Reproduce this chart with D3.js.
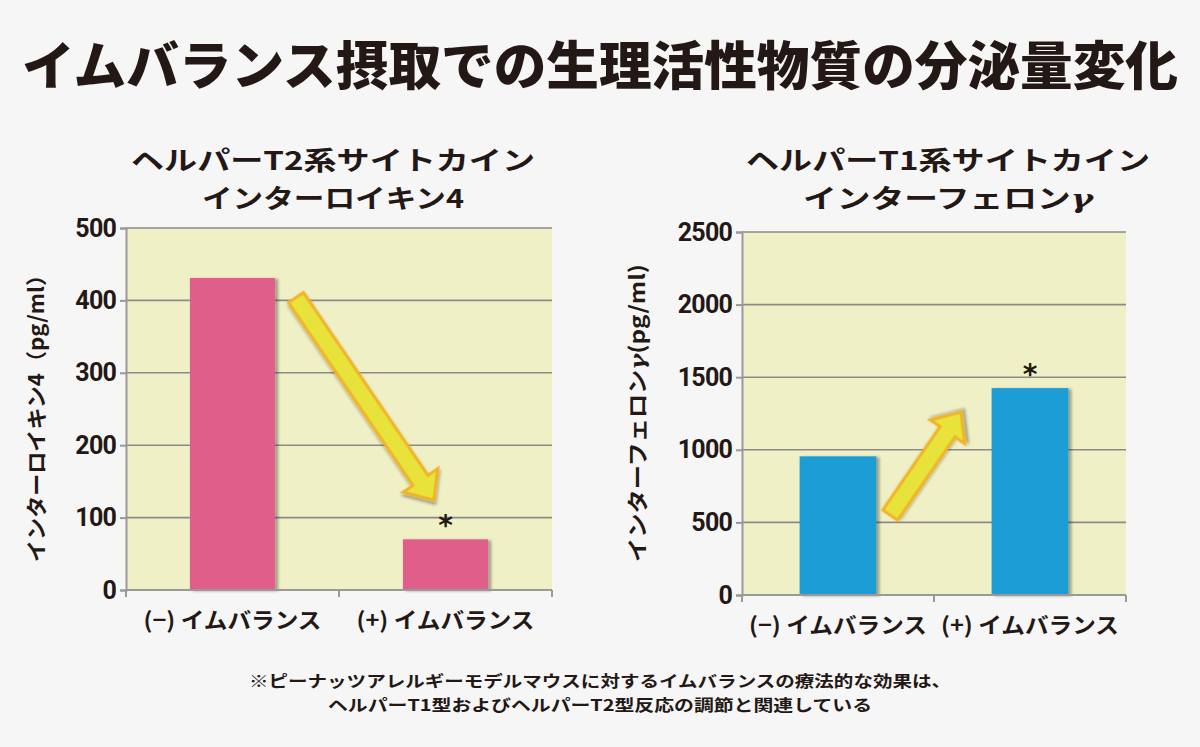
<!DOCTYPE html>
<html lang="ja">
  <head>
    <meta charset="UTF-8" />
    <title>イムバランス摂取での生理活性物質の分泌量変化</title>
    <script src="https://d3js.org/d3.v7.min.js"></script>
    <style>
      html, body { margin: 0; padding: 0; background: #f6f6f6; }
      svg { display: block; }
      text { fill: #231815; }
    </style>
  </head>
  <body>
    <svg width="1200" height="747"></svg>
    <script>
      // values
      const categories = ['(−) イムバランス', '(+) イムバランス'];
      const il4Values = [431, 70];
      const ifnValues = [955, 1425];
      const il4Ticks = [0, 100, 200, 300, 400, 500];
      const ifnTicks = [0, 500, 1000, 1500, 2000, 2500];
      const significant = [false, true];

      const svg = d3.select('svg');
      const jp = '"Noto Sans CJK JP", "Noto Sans", sans-serif';
      const num = 'Roboto, "Liberation Sans", sans-serif';

      const defs = svg.append('defs');
      const shadow = defs.append('filter').attr('id', 'shadow')
        .attr('x', '-10%').attr('y', '-10%').attr('width', '130%').attr('height', '120%');
      shadow.append('feDropShadow').attr('dx', 3).attr('dy', 1).attr('stdDeviation', 1.5)
        .attr('flood-color', '#000').attr('flood-opacity', 0.35);

      // main title
      svg.append('text')
        .attr('x', 600).attr('y', 85)
        .attr('text-anchor', 'middle')
        .attr('font-family', jp).attr('font-weight', 900).attr('font-size', 52)
        .attr('textLength', 1156).attr('lengthAdjust', 'spacingAndGlyphs')
        .text('イムバランス摂取での生理活性物質の分泌量変化');

      // text with an italic greek gamma at the end, if any
      function gammaText(sel, s) {
        const parts = s.split('γ');
        sel.append('tspan').text(parts[0]);
        if (parts.length > 1) {
          sel.append('tspan')
            .attr('font-family', '"DejaVu Serif", "Liberation Serif", serif')
            .attr('font-style', 'italic').text('γ');
          if (parts[1]) sel.append('tspan').text(parts[1]);
        }
      }

      function drawChart(opt) {
        const { left, right, top, bottom } = opt;
        const g = svg.append('g');

        const x = d3.scaleBand().domain(categories).range([left, right]);
        const xi = d3.scaleLinear().domain([0, 2]).range([left, right]); // index units for arrows
        const y = d3.scaleLinear().domain([0, opt.max]).range([bottom, top]);

        // subtitle
        const cx = (left + right) / 2 + opt.titleShift;
        opt.title.forEach((t, i) => {
          const el = g.append('text')
            .attr('x', cx).attr('y', 170 + i * 38)
            .attr('text-anchor', 'middle')
            .attr('font-family', jp).attr('font-weight', 700).attr('font-size', 26)
            .attr('textLength', opt.titleLen[i]).attr('lengthAdjust', 'spacingAndGlyphs');
          gammaText(el, t);
        });

        g.append('rect')
          .attr('x', left).attr('y', top)
          .attr('width', right - left).attr('height', bottom - top)
          .attr('fill', '#f0f0c6');

        // gridlines
        g.selectAll('line.grid').data(opt.ticks.slice(1)).join('line')
          .attr('x1', left).attr('x2', right)
          .attr('y1', (d) => y(d)).attr('y2', (d) => y(d))
          .attr('stroke', '#8a8a8a').attr('stroke-width', 1.6);

        // bars
        const bw = x.bandwidth() * 0.4;
        g.selectAll('rect.bar').data(opt.values).join('rect')
          .attr('class', 'bar')
          .attr('x', (d, i) => x(categories[i]) + (x.bandwidth() - bw) / 2)
          .attr('y', (d) => y(d))
          .attr('width', bw)
          .attr('height', (d) => bottom - y(d))
          .attr('fill', opt.color)
          .attr('filter', 'url(#shadow)');

        // asterisks
        g.selectAll('text.star').data(opt.values.filter((d, i) => significant[i])).join('text')
          .attr('class', 'star')
          .attr('x', x(categories[1]) + x.bandwidth() / 2)
          .attr('y', (d) => y(d) - 4)
          .attr('text-anchor', 'middle')
          .attr('font-family', '"DejaVu Sans", sans-serif').attr('font-weight', 700).attr('font-size', 28)
          .text('*');

        // axes
        const yAxis = d3.axisLeft(y).tickValues(opt.ticks).tickFormat(d3.format('d'))
          .tickSize(6).tickPadding(4);
        const ya = g.append('g').attr('transform', `translate(${left},0)`).call(yAxis);
        ya.select('.domain').attr('stroke', '#999').attr('stroke-width', 2);
        ya.selectAll('.tick line').attr('stroke', '#999').attr('stroke-width', 2);
        ya.selectAll('.tick text')
          .attr('font-family', num).attr('font-weight', 700).attr('font-size', 25)
          .attr('letter-spacing', -0.8).attr('fill', '#231815');

        const xa = g.append('g').attr('transform', `translate(0,${bottom})`);
        xa.append('line').attr('x1', left).attr('x2', right)
          .attr('stroke', '#999').attr('stroke-width', 2);
        xa.selectAll('line.t').data([0, 1, 2]).join('line')
          .attr('class', 't')
          .attr('x1', (d) => xi(d)).attr('x2', (d) => xi(d))
          .attr('y1', 0).attr('y2', 7)
          .attr('stroke', '#999').attr('stroke-width', 2);
        xa.selectAll('text').data(categories).join('text')
          .attr('x', (d) => x(d) + x.bandwidth() / 2)
          .attr('y', 38)
          .attr('text-anchor', 'middle')
          .attr('font-family', jp).attr('font-weight', 700).attr('font-size', 22)
          .attr('textLength', 178).attr('lengthAdjust', 'spacingAndGlyphs')
          .text((d) => d);

        // y label
        const yl = g.append('text')
          .attr('transform', `translate(${opt.labelX},413) rotate(-90)`)
          .attr('text-anchor', 'middle')
          .attr('font-family', jp).attr('font-weight', 700).attr('font-size', 21)
          .attr('textLength', 298).attr('lengthAdjust', 'spacingAndGlyphs');
        gammaText(yl, opt.yLabel);

        // trend arrow
        const [a0, a1] = opt.arrow;
        const p0 = [xi(a0[0]), y(a0[1])];
        const p1 = [xi(a1[0]), y(a1[1])];
        const ang = Math.atan2(p1[1] - p0[1], p1[0] - p0[0]);
        const len = Math.hypot(p1[0] - p0[0], p1[1] - p0[1]);
        const sw = 9, hw = 21, hl = 24;
        const shape = [[0, -sw], [len - hl, -sw], [len - hl, -hw], [len, 0],
          [len - hl, hw], [len - hl, sw], [0, sw]];
        g.append('path')
          .attr('transform', `translate(${p0[0]},${p0[1]}) rotate(${ang * 180 / Math.PI})`)
          .attr('d', d3.line()(shape) + 'Z')
          .attr('fill', '#e8e33a')
          .attr('stroke', '#f0b428').attr('stroke-width', 3)
          .attr('stroke-linejoin', 'miter')
          .attr('filter', 'url(#shadow)');
      }

      drawChart({
        left: 126, right: 552, top: 228, bottom: 590,
        max: 500, ticks: il4Ticks, values: il4Values, color: '#e05e8a',
        title: ['ヘルパーT2系サイトカイン', 'インターロイキン4'], titleLen: [404, 262], titleShift: -6,
        yLabel: 'インターロイキン4（pg/ml）', labelX: 44,
        arrow: [[0.798, 404], [1.446, 124]],
      });

      drawChart({
        left: 742, right: 1126, top: 232, bottom: 595,
        max: 2500, ticks: ifnTicks, values: ifnValues, color: '#1e9dd6',
        title: ['ヘルパーT1系サイトカイン', 'インターフェロンγ'], titleLen: [404, 290], titleShift: 14,
        yLabel: 'インターフェロンγ(pg/ml)', labelX: 645,
        arrow: [[0.772, 550], [1.141, 1260]],
      });

      // footnote
      const notes = ['※ピーナッツアレルギーモデルマウスに対するイムバランスの療法的な効果は、',
        'ヘルパーT1型およびヘルパーT2型反応の調節と関連している'];
      const noteLen = [702, 544];
      svg.selectAll('text.note').data(notes).join('text')
        .attr('class', 'note')
        .attr('x', 600).attr('y', (d, i) => 687 + i * 24)
        .attr('text-anchor', 'middle')
        .attr('font-family', jp).attr('font-weight', 700).attr('font-size', 16)
        .attr('textLength', (d, i) => noteLen[i]).attr('lengthAdjust', 'spacingAndGlyphs')
        .text((d) => d);
    </script>
  </body>
</html>
